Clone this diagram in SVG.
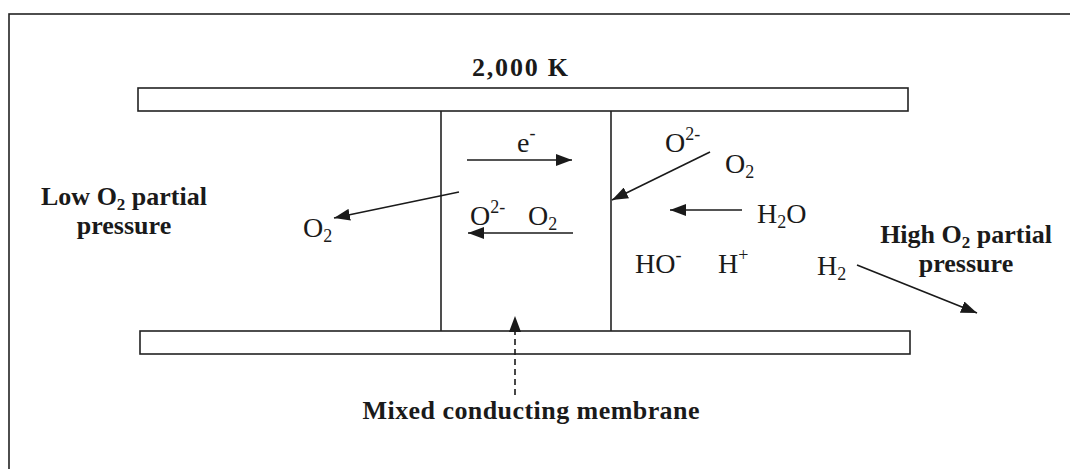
<svg xmlns="http://www.w3.org/2000/svg" width="1070" height="469" viewBox="0 0 1070 469">
<style>
.frame{fill:none;stroke:#222;stroke-width:1.6}
.bar{fill:#fff;stroke:#222;stroke-width:1.6}
.wall{stroke:#222;stroke-width:1.6}
.b{font-family:"Liberation Serif","Times New Roman",serif;font-weight:bold;font-size:26px;fill:#1a1a1a}
.s{font-family:"Liberation Serif","Times New Roman",serif;font-size:28px;fill:#1a1a1a}
.arr{stroke:#1a1a1a;stroke-width:1.6;fill:none;marker-end:url(#ah)}
.dash{stroke:#1a1a1a;stroke-width:1.6;fill:none;stroke-dasharray:6,4;marker-end:url(#ah)}
</style>
<defs>
<marker id="ah" viewBox="0 0 16 12" refX="16" refY="6" markerWidth="16" markerHeight="12" markerUnits="userSpaceOnUse" orient="auto">
<path d="M0,0 L16,6 L0,12 z" fill="#1a1a1a"/>
</marker>
</defs>
<rect width="1070" height="469" fill="#fff"/>
<rect class="frame" x="9" y="14" width="1100" height="500"/>
<g id="top-bar"><rect class="bar" x="138" y="88" width="770" height="23"/></g>
<g id="bottom-bar"><rect class="bar" x="140" y="331" width="770" height="23"/></g>
<g id="membrane">
<line class="wall" x1="441" y1="111" x2="441" y2="331"/>
<line class="wall" x1="611" y1="111" x2="611" y2="331"/>
</g>
<g id="labels">
<text class="b" x="520" y="76" text-anchor="middle" textLength="96" lengthAdjust="spacing">2,000 K</text>
<text class="b" x="124" y="205" text-anchor="middle">Low O<tspan font-size="17" dy="5">2</tspan><tspan dy="-5"> partial</tspan></text>
<text class="b" x="124" y="234" text-anchor="middle">pressure</text>
<text class="b" x="966" y="243" text-anchor="middle">High O<tspan font-size="17" dy="5">2</tspan><tspan dy="-5"> partial</tspan></text>
<text class="b" x="966" y="272" text-anchor="middle">pressure</text>
<text class="b" x="531" y="419" text-anchor="middle" textLength="337" lengthAdjust="spacing">Mixed conducting membrane</text>
</g>
<g id="species">
<text class="s" x="517" y="152">e<tspan font-size="18" dy="-13">-</tspan></text>
<text class="s" x="470" y="225">O<tspan font-size="18" dy="-12">2-</tspan></text>
<text class="s" x="528" y="225">O<tspan font-size="18" dy="5">2</tspan></text>
<text class="s" x="303" y="237">O<tspan font-size="18" dy="5">2</tspan></text>
<text class="s" x="665" y="152">O<tspan font-size="18" dy="-12">2-</tspan></text>
<text class="s" x="725" y="173">O<tspan font-size="18" dy="5">2</tspan></text>
<text class="s" x="757" y="223">H<tspan font-size="18" dy="5">2</tspan><tspan dy="-5">O</tspan></text>
<text class="s" x="635" y="273">HO<tspan font-size="18" dy="-12">-</tspan></text>
<text class="s" x="718" y="273">H<tspan font-size="18" dy="-12">+</tspan></text>
<text class="s" x="817" y="275">H<tspan font-size="18" dy="5">2</tspan></text>
</g>
<g id="connectors">
<line class="arr" x1="467" y1="160" x2="572" y2="160"/>
<line class="arr" x1="573" y1="233" x2="468" y2="233"/>
<line class="arr" x1="459" y1="192" x2="334" y2="218"/>
<line class="arr" x1="710" y1="152" x2="612" y2="200"/>
<line class="arr" x1="742" y1="210" x2="670" y2="210"/>
<line class="arr" x1="857" y1="265" x2="977" y2="313"/>
<line class="dash" x1="515" y1="395" x2="515" y2="316"/>
</g>
</svg>
